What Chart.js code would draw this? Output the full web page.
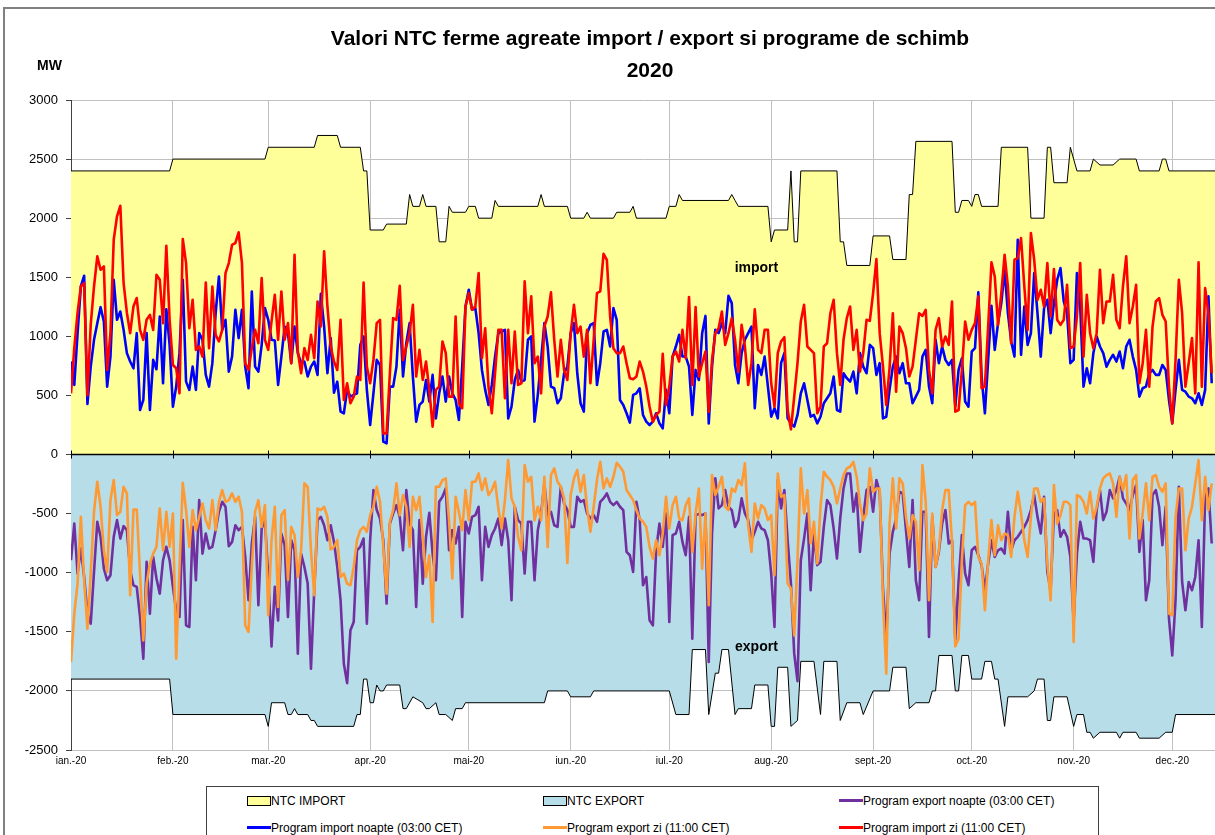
<!DOCTYPE html>
<html lang="ro">
<head>
<meta charset="utf-8">
<title>Valori NTC ferme agreate import / export si programe de schimb 2020</title>
<script src="https://cdn.jsdelivr.net/npm/chart.js@4.4.1/dist/chart.umd.min.js"></script>
<style>
    body { margin: 0; background: #fff; overflow: hidden; font-family: "Liberation Sans", Arial, sans-serif; }
    #wrap { position: relative; width: 1215px; height: 835px; overflow: hidden; }
    #frame { position: absolute; left: 3px; top: 7px; width: 1300px; height: 900px; border-top: 2px solid #808080; border-left: 2px solid #808080; }
    #title { position: absolute; left: 300px; top: 22px; width: 700px; text-align: center; font-weight: bold; font-size: 21px; line-height: 32px; color: #000; }
    #unit { position: absolute; left: 37px; top: 57px; font-weight: bold; font-size: 14px; color: #000; }
    #legend { position: absolute; left: 206px; top: 786px; width: 891px; height: 70px; border: 1px solid #404040; background: #fff; }
    .item { position: absolute; font-size: 12px; line-height: 14px; color: #000; white-space: nowrap; }
    .box { display: inline-block; width: 22px; height: 8px; border: 1px solid #000; vertical-align: -1px; }
    .line { display: inline-block; width: 24px; height: 3px; vertical-align: 3px; }
    canvas { position: absolute; left: 0; top: 0; }
</style>
</head>
<body>
<div id="wrap">
    <div id="frame"></div>
    <canvas id="ntcChart" width="1215" height="835"></canvas>
    <div id="title">Valori NTC ferme agreate import / export si programe de schimb<br>2020</div>
    <div id="unit">MW</div>
    <div id="legend"></div>
</div>
<script>
// Axis: days since 1 Jan 2020, month starts as ticks
const monthDays = [0, 31, 60, 91, 121, 152, 182, 213, 244, 274, 305, 335];
const monthLabels = ['ian.-20', 'feb.-20', 'mar.-20', 'apr.-20', 'mai-20', 'iun.-20', 'iul.-20', 'aug.-20', 'sept.-20', 'oct.-20', 'nov.-20', 'dec.-20'];

// NTC steps [day, MW]
const ntcImport = [
    [0,2400],[30,2400],[31,2500],[59,2500],[60,2600],[74,2600],[75,2700],[81,2700],[82,2600],[88,2600],
    [89,2400],[90,2400],[91,1900],[95,1900],[96,1950],[102,1950],[103,2200],[104,2100],[106,2100],[107,2200],
    [108,2100],[111,2100],[112,1800],[114,1800],[115,2100],[116,2050],[120,2050],[121,2100],[123,2100],[124,2000],
    [128,2000],[129,2150],[130,2100],[142,2100],[143,2200],[144,2100],[151,2100],[152,2000],[156,2000],[157,2050],
    [158,2000],[165,2000],[166,2050],[170,2050],[171,2100],[172,2000],[181,2000],[182,2100],[184,2100],[185,2200],
    [186,2150],[200,2150],[201,2200],[202,2150],[203,2100],[212,2100],[213,1800],[214,1900],[218,1900],[219,2400],
    [220,1800],[221,1800],[222,2400],[233,2400],[234,1800],[235,1800],[236,1600],[243,1600],[244,1850],[249,1850],
    [250,1650],[254,1650],[255,2200],[256,2200],[257,2650],[268,2650],[269,2050],[270,2050],[271,2150],[273,2150],
    [274,2100],[275,2200],[276,2200],[277,2100],[282,2100],[283,2600],[291,2600],[292,2000],[296,2000],[297,2600],
    [298,2600],[299,2300],[303,2300],[304,2600],[306,2400],[310,2400],[311,2500],[313,2450],[317,2450],[319,2500],
    [324,2500],[325,2400],[331,2400],[332,2500],[333,2500],[334,2400],[348,2400]
];
const ntcExport = [
    [0,-1900],[30,-1900],[31,-2200],[59,-2200],[60,-2300],[61,-2100],[65,-2100],[66,-2200],[67,-2200],[68,-2150],
    [69,-2200],[72,-2200],[73,-2250],[74,-2250],[75,-2300],[86,-2300],[87,-2200],[88,-2200],[89,-1900],[90,-1900],
    [91,-2100],[92,-2100],[93,-1950],[94,-2000],[95,-2000],[96,-1950],[100,-1950],[101,-2150],[102,-2150],[104,-2050],
    [107,-2100],[108,-2150],[109,-2150],[111,-2100],[112,-2200],[114,-2200],[116,-2250],[117,-2150],[119,-2150],[120,-2100],
    [144,-2100],[145,-2000],[151,-2000],[152,-2050],[158,-2050],[159,-2000],[182,-2000],[184,-2200],[188,-2200],[189,-1650],
    [193,-1650],[194,-2200],[196,-1850],[197,-1850],[198,-1650],[200,-1650],[202,-2200],[203,-2150],[207,-2150],[208,-1950],
    [212,-1950],[213,-2300],[214,-2300],[215,-1800],[218,-1800],[219,-2300],[221,-2250],[222,-1750],[226,-1750],[228,-2200],
    [229,-1750],[233,-1750],[234,-2250],[236,-2100],[240,-2100],[241,-2200],[244,-2000],[249,-2000],[250,-1800],[254,-1800],
    [255,-2150],[257,-2100],[261,-2100],[262,-2000],[263,-2000],[264,-1700],[268,-1700],[269,-2000],[270,-2000],[271,-1700],
    [273,-1700],[274,-1900],[277,-1900],[278,-1750],[280,-1750],[281,-1900],[282,-1900],[284,-2300],[285,-2050],[291,-2050],
    [293,-2000],[294,-1900],[296,-1900],[297,-2250],[298,-2250],[299,-2050],[303,-2050],[305,-2300],[306,-2200],[308,-2200],
    [309,-2350],[310,-2350],[311,-2400],[313,-2350],[318,-2350],[319,-2400],[320,-2350],[324,-2350],[325,-2400],[331,-2400],
    [333,-2350],[335,-2350],[336,-2200],[348,-2200]
];

// Daily programs (MW), index = day of year
const importZi = [
    518,900,1200,1422,1450,503,1100,1422,1677,1564, 1592,716,1027,1818,2016,2105,1450,1200,1027,1253,
    1324,1055,971,1140,1182,1055,1521,1479,1112,1767, 1140,758,730,518,1824,1620,1069,1310,886,914,
    829,1456,900,1422,1013,957,1055,1535,1620,1775, 1790,1880,1620,773,716,900,1055,942,1493,971,
    886,1126,1352,971,1380,971,1112,773,1691,872, 688,900,801,1013,815,1295,1083,1720,1253,914,
    787,716,1140,462,603,434,490,660,631,1456, 744,603,801,1112,1140,179,179,688,1154,1140,
    1428,801,914,1027,1267,660,886,631,787,547, 236,547,575,957,858,490,490,1168,434,392,
    1253,1366,1225,1253,1535,815,1069,575,349,688, 1055,1055,476,1055,603,1041,589,603,1465,1027,
    1338,773,829,518,1083,1168,1372,971,660,971, 716,631,1027,1267,1027,1083,829,1055,603,971,
    1366,1380,1699,1648,1168,900,858,858,914,773, 646,637,660,787,702,575,405,278,335,363,
    852,420,575,829,872,787,1055,815,1332,589, 1247,660,773,872,363,801,1027,1069,1210,928,
    1027,1154,971,702,1097,914,589,773,1230,886, 858,1055,1055,603,405,858,957,993,377,213,
    490,773,1126,1267,914,886,858,349,405,914, 942,1196,1310,858,589,971,1154,1253,886,1055,
    702,858,1140,1131,1366,1654,1027,744,420,730, 1196,532,1083,1027,900,660,744,971,1196,1173,
    1225,716,518,1055,1154,914,999,928,1295,363, 377,716,1126,971,1055,1112,1338,561,575,1083,
    1626,1507,1097,1366,1691,1422,942,1648,1662,1832, 1422,1055,1874,1648,1310,1394,1253,1620,1168,1569,
    1140,1097,1140,1436,900,914,1168,1620,829,1352, 1027,900,1027,1564,1112,1295,1295,1521,1140,1069,
    1422,1677,1112,1253,1436,603,773,1055,575,1083, 1295,1324,1182,1126,575,264,801,1479,1196,575,
    773,985,518,1626,575,1408,1196,688
];
const importNoapte = [
    787,589,1027,1422,1513,428,744,971,1112,1247, 1126,575,829,1479,1140,1210,1055,858,787,730,
    1027,377,462,1027,377,801,722,1168,603,1230, 928,405,575,858,1479,617,547,744,547,1027,
    971,674,575,773,1196,1507,1055,1140,702,829, 1225,985,1225,744,561,1380,744,702,928,1239,
    1140,971,965,589,829,1083,1027,773,1083,858, 773,787,660,744,787,674,1360,1083,688,985,
    524,617,363,349,547,490,505,518,928,999, 547,250,518,801,758,109,95,575,575,744,
    1225,660,942,1112,660,278,420,448,631,448, 674,306,518,660,448,660,518,462,292,744,
    1253,1394,1225,1239,1027,716,547,420,589,829, 1027,1041,1055,306,405,631,716,617,631,971,
    999,278,505,801,1112,914,575,561,434,476, 688,744,1027,1112,688,434,363,1027,1097,1112,
    589,773,1041,1055,914,1239,1140,462,420,349, 270,505,518,561,335,278,250,278,349,264,
    222,547,349,829,914,1013,829,829,744,335, 716,631,1027,1173,264,744,1055,1027,1112,1027,
    1343,1281,758,603,858,971,1027,1083,392,758, 674,829,575,320,392,306,773,858,306,264,
    236,335,518,603,462,320,335,264,320,434, 476,518,660,377,363,688,646,617,702,518,
    858,744,688,928,900,674,773,306,320,547, 744,829,688,773,603,603,434,490,547,829,
    886,575,434,971,773,914,801,758,801,405, 716,815,448,405,872,900,1372,660,349,801,
    1258,886,1112,1281,1564,1196,957,829,1818,844, 1253,928,1027,1535,1196,829,1239,1310,1027,1281,
    1479,1578,1295,1196,773,801,1535,1253,575,730, 603,858,999,914,858,744,801,844,787,872,
    730,914,971,829,716,490,561,575,688,716, 674,674,758,716,462,264,547,801,547,532,
    490,476,434,518,420,547,1338,603
];
const exportZi = [
    -1756,-1346,-1092,-527,-1064,-1473,-1007,-484,-230,-442, -810,-993,-386,-216,-513,-484,-273,-329,-1190,-465,
    -465,-1007,-1572,-1092,-922,-838,-781,-456,-810,-484, -781,-499,-1727,-965,-239,-470,-781,-470,-640,-527,
    -414,-555,-626,-386,-640,-400,-301,-400,-386,-329, -400,-357,-484,-1445,-1501,-951,-484,-386,-612,-428,
    -1360,-725,-442,-1290,-513,-470,-1058,-612,-682,-1036, -810,-244,-273,-810,-1190,-456,-470,-442,-527,-804,
    -781,-725,-1036,-1007,-1092,-1106,-951,-725,-640,-612, -654,-513,-442,-273,-400,-781,-1177,-569,-470,-244,
    -513,-343,-442,-781,-357,-470,-357,-696,-1036,-852, -1417,-273,-273,-216,-202,-555,-1049,-357,-484,-640,
    -301,-555,-230,-230,-160,-301,-202,-343,-301,-230, -456,-626,-386,-47,-371,-442,-696,-810,-89,-230,
    -188,-555,-442,-555,-188,-781,-174,-117,-230,-273, -371,-917,-343,-202,-131,-315,-174,-456,-654,-442,
    -216,-61,-287,-202,-273,-188,-69,-103,-145,-301, -343,-386,-470,-541,-569,-612,-781,-880,-725,-852,
    -668,-357,-626,-428,-357,-541,-555,-428,-371,-824, -499,-287,-965,-499,-1275,-174,-343,-273,-188,-442,
    -470,-287,-315,-216,-259,-75,-598,-824,-414,-541, -428,-456,-555,-513,-1021,-160,-357,-343,-1092,-1134,
    -1530,-894,-117,-499,-301,-753,-569,-922,-442,-145, -188,-216,-273,-414,-287,-174,-117,-103,-61,-188,
    -414,-555,-499,-117,-315,-287,-287,-1233,-1855,-584, -202,-626,-202,-244,-527,-711,-513,-569,-979,-89,
    -400,-1233,-499,-951,-810,-470,-301,-301,-739,-1623, -1558,-894,-428,-400,-428,-400,-866,-922,-1318,-894,
    -555,-852,-598,-725,-668,-682,-866,-527,-315,-499, -725,-866,-527,-287,-287,-400,-371,-922,-1233,-259,
    -584,-513,-400,-400,-428,-1586,-343,-357,-400,-499, -315,-541,-442,-287,-202,-174,-160,-244,-527,-188,
    -301,-174,-711,-216,-174,-711,-499,-244,-555,-188, -174,-273,-315,-244,-1346,-1360,-527,-287,-287,-810,
    -541,-442,-244,-47,-555,-188,-470,-244
];
const exportNoapte = [
    -894,-584,-1007,-795,-1036,-1346,-1431,-993,-569,-696, -965,-1064,-1021,-696,-555,-711,-606,-640,-979,-1106,
    -1120,-1374,-1727,-908,-1346,-866,-1049,-1177,-894,-781, -894,-1120,-1318,-1374,-555,-1445,-1459,-612,-1064,-386,
    -838,-668,-795,-781,-640,-484,-400,-442,-776,-739, -598,-640,-612,-866,-1233,-753,-527,-1275,-626,-555,
    -1036,-1623,-1120,-1403,-668,-767,-1374,-725,-810,-1685, -838,-951,-1092,-1812,-1148,-555,-527,-598,-725,-598,
    -739,-951,-1233,-1770,-1934,-1487,-1417,-810,-781,-711, -1431,-725,-301,-470,-541,-725,-1261,-584,-499,-428,
    -527,-810,-301,-584,-640,-1290,-555,-1092,-696,-493, -838,-1064,-400,-357,-287,-810,-640,-753,-612,-1374,
    -569,-668,-527,-513,-442,-1064,-612,-781,-682,-626, -541,-767,-541,-725,-1233,-442,-555,-584,-1007,-569,
    -569,-1064,-640,-499,-244,-527,-484,-598,-612,-273, -414,-470,-612,-612,-357,-400,-386,-499,-541,-513,
    -569,-400,-371,-329,-400,-428,-400,-442,-470,-824, -852,-993,-400,-555,-1106,-1036,-1403,-1445,-810,-584,
    -781,-499,-1417,-682,-668,-569,-739,-852,-527,-1558, -513,-504,-513,-499,-1756,-668,-202,-456,-428,-301,
    -442,-470,-612,-555,-371,-499,-555,-725,-654,-569, -626,-640,-725,-1007,-1459,-216,-456,-301,-725,-1092,
    -1685,-1918,-894,-711,-499,-1148,-668,-936,-908,-612, -386,-428,-626,-880,-541,-287,-160,-160,-484,-329,
    -824,-527,-301,-273,-484,-216,-315,-1134,-1558,-838, -654,-541,-315,-329,-640,-951,-386,-1064,-1233,-484,
    -484,-1544,-527,-951,-824,-584,-470,-753,-725,-1572, -1078,-682,-1007,-1106,-810,-781,-852,-936,-1148,-922,
    -725,-866,-810,-795,-838,-484,-810,-725,-696,-654, -612,-555,-470,-343,-527,-668,-357,-993,-1148,-499,
    -470,-696,-640,-696,-866,-1417,-838,-569,-711,-711, -725,-908,-470,-301,-555,-484,-301,-371,-301,-188,
    -371,-414,-470,-343,-259,-824,-555,-1233,-1064,-343, -301,-442,-767,-442,-1389,-1699,-1233,-273,-1078,-1318,
    -1078,-1148,-1036,-725,-1459,-357,-287,-753
];

const FONT = '"Liberation Sans", Arial, sans-serif';
const toPoints = arr => arr.map((v, i) => ({ x: i, y: v }));
const toSteps = arr => arr.map(p => ({ x: p[0], y: p[1] }));

// Series definitions (also used for the legend)
const series = [
    { label: 'NTC IMPORT', data: toSteps(ntcImport), fillColor: '#FFFF99', kind: 'area', order: 10 },
    { label: 'NTC EXPORT', data: toSteps(ntcExport), fillColor: '#B7DEE8', kind: 'area', order: 10 },
    { label: 'Program export noapte (03:00 CET)', data: toPoints(exportNoapte), color: '#7030A0', kind: 'line', order: 3 },
    { label: 'Program import noapte (03:00 CET)', data: toPoints(importNoapte), color: '#0000FF', kind: 'line', order: 4 },
    { label: 'Program export zi (11:00 CET)', data: toPoints(exportZi), color: '#FF9933', kind: 'line', order: 1 },
    { label: 'Program import zi (11:00 CET)', data: toPoints(importZi), color: '#FF0000', kind: 'line', order: 2 }
];

const datasets = series.map(s => s.kind === 'area' ? {
    label: s.label, data: s.data, order: s.order,
    borderColor: '#000', borderWidth: 1, backgroundColor: s.fillColor,
    fill: 'origin', pointRadius: 0, tension: 0
} : {
    label: s.label, data: s.data, order: s.order,
    borderColor: s.color, borderWidth: 2.6, backgroundColor: s.color,
    fill: false, pointRadius: 0, tension: 0, borderJoinStyle: 'round'
});

// zero line, tick marks on it and the import / export captions
const overlayPlugin = {
    id: 'overlay',
    afterDatasetsDraw(chart) {
        const { ctx, chartArea, scales } = chart;
        const y0 = scales.y.getPixelForValue(0);
        ctx.save();
        ctx.strokeStyle = '#000';
        ctx.lineWidth = 1.5;
        ctx.beginPath();
        ctx.moveTo(chartArea.left, y0);
        ctx.lineTo(chartArea.right, y0);
        ctx.stroke();
        ctx.lineWidth = 1;
        monthDays.forEach(d => {
            const px = Math.round(scales.x.getPixelForValue(d)) + 0.5;
            ctx.beginPath();
            ctx.moveTo(px, y0 - 4);
            ctx.lineTo(px, y0 + 4);
            ctx.stroke();
        });
        ctx.fillStyle = '#000';
        ctx.font = 'bold 14px ' + FONT;
        ctx.textAlign = 'center';
        ctx.textBaseline = 'middle';
        ctx.fillText('import', scales.x.getPixelForValue(208.5), scales.y.getPixelForValue(1580));
        ctx.fillText('export', scales.x.getPixelForValue(208.5), scales.y.getPixelForValue(-1630));
        ctx.restore();
    }
};

new Chart(document.getElementById('ntcChart').getContext('2d'), {
    type: 'line',
    data: { datasets },
    options: {
        responsive: false,
        animation: false,
        parsing: false,
        layout: { padding: { top: 100, left: 0, right: 0, bottom: 0 } },
        plugins: { legend: { display: false }, tooltip: { enabled: false } },
        scales: {
            x: {
                type: 'linear', min: 0, max: 348,
                afterFit: s => { s.height = 85; },
                afterBuildTicks: s => { s.ticks = monthDays.map(v => ({ value: v })); },
                grid: { color: '#c0c0c0', drawTicks: false },
                border: { display: false },
                ticks: {
                    autoSkip: false, maxRotation: 0, padding: 5, color: '#000',
                    font: { family: FONT, size: 10 },
                    callback: v => monthLabels[monthDays.indexOf(v)]
                }
            },
            y: {
                min: -2500, max: 3000,
                afterFit: s => { s.width = 71; },
                grid: { color: '#c0c0c0', tickColor: '#404040', tickLength: 5 },
                border: { color: '#404040' },
                ticks: {
                    stepSize: 500, padding: 8, color: '#000',
                    font: { family: FONT, size: 13 },
                    callback: v => String(v)
                }
            }
        }
    },
    plugins: [overlayPlugin]
});

// Legend: 3 columns x 2 rows
const legendSlots = [
    { s: 0, left: 40, top: 7 }, { s: 1, left: 336, top: 7 }, { s: 2, left: 632, top: 7 },
    { s: 3, left: 40, top: 34 }, { s: 4, left: 336, top: 34 }, { s: 5, left: 632, top: 34 }
];
const legend = document.getElementById('legend');
legend.innerHTML = legendSlots.map(slot => {
    const s = series[slot.s];
    const mark = s.kind === 'area'
        ? `<span class="box" style="background:${s.fillColor}"></span>`
        : `<span class="line" style="background:${s.color}"></span>`;
    return `<div class="item" style="left:${slot.left}px;top:${slot.top}px">${mark}${s.label}</div>`;
}).join('');
</script>
</body>
</html>
